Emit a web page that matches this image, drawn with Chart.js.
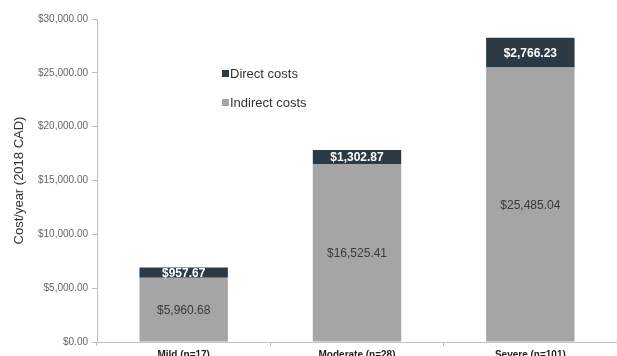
<!DOCTYPE html>
<html>
<head>
<meta charset="utf-8">
<script src="https://cdn.jsdelivr.net/npm/chart.js@4"></script>
<style>
  html, body { margin: 0; padding: 0; background: #fff; }
  #wrap { width: 617px; height: 356px; position: relative; }
</style>
</head>
<body>
<div id="wrap"><canvas id="myCanvas"></canvas></div>
<script>
const categories = ["Mild (n=17)", "Moderate (n=28)", "Severe (n=101)"];
const indirectCosts = [5960.68, 16525.41, 25485.04];
const directCosts = [957.67, 1302.87, 2766.23];
const yTicks = [0, 5000, 10000, 15000, 20000, 25000, 30000];

const money = v => "$" + v.toLocaleString("en-US", { minimumFractionDigits: 2, maximumFractionDigits: 2 });

// value labels inside each segment
const valueLabels = {
    id: "valueLabels",
    afterDatasetsDraw(chart) {
        const ctx = chart.ctx;
        ctx.save();
        ctx.textAlign = "center";
        ctx.textBaseline = "middle";
        chart.data.datasets.forEach((ds, i) => {
            const meta = chart.getDatasetMeta(i);
            meta.data.forEach((bar, j) => {
                const mid = (bar.y + bar.base) / 2;
                if (ds.label === "Direct costs") {
                    ctx.font = "bold 12px 'Liberation Sans', Arial, sans-serif";
                    ctx.fillStyle = "#ffffff";
                } else {
                    ctx.font = "12px 'Liberation Sans', Arial, sans-serif";
                    ctx.fillStyle = "#3a3a3a";
                }
                ctx.fillText(money(ds.data[j]), bar.x, mid + 1);
            });
        });
        ctx.restore();
    },
};

// legend drawn inside the plot, direct first
const innerLegend = {
    id: "innerLegend",
    afterDraw(chart) {
        const ctx = chart.ctx;
        const items = [chart.data.datasets[1], chart.data.datasets[0]];
        ctx.save();
        ctx.font = "13px 'Liberation Sans', Arial, sans-serif";
        ctx.textBaseline = "middle";
        items.forEach((ds, k) => {
            const y = 74 + k * 29;
            ctx.fillStyle = ds.backgroundColor;
            ctx.fillRect(222, y - 4, 7, 7);
            ctx.fillStyle = "#333333";
            ctx.fillText(ds.label, 230, y);
        });
        ctx.restore();
    },
};

new Chart(document.getElementById("myCanvas"), {
    type: "bar",
    data: {
        labels: categories,
        datasets: [
            {
                label: "Indirect costs",
                data: indirectCosts,
                backgroundColor: "#a5a5a5",
                categoryPercentage: 1,
                barPercentage: 0.51,
            },
            {
                label: "Direct costs",
                data: directCosts,
                backgroundColor: "#2b3a44",
                categoryPercentage: 1,
                barPercentage: 0.51,
            },
        ],
    },
    options: {
        responsive: true,
        maintainAspectRatio: false,
        animation: false,
        layout: { padding: { top: 19, right: 0, bottom: 0, left: 0 } },
        plugins: {
            legend: { display: false },
            tooltip: { enabled: false },
        },
        scales: {
            x: {
                stacked: true,
                afterFit: s => { s.height = 14; },
                grid: {
                    offset: true,
                    drawOnChartArea: false,
                    color: "#bfbfbf",
                    tickLength: 4,
                },
                border: { color: "#bfbfbf" },
                ticks: {
                    padding: 3,
                    color: "#222222",
                    font: { family: "'Liberation Sans', Arial, sans-serif", size: 10, weight: "bold" },
                },
            },
            y: {
                stacked: true,
                min: 0,
                max: 30000,
                afterFit: s => { s.width = 97; },
                afterBuildTicks: s => { s.ticks = yTicks.map(v => ({ value: v })); },
                grid: {
                    drawOnChartArea: false,
                    color: "#bfbfbf",
                    tickLength: 5,
                },
                border: { color: "#bfbfbf" },
                ticks: {
                    padding: 4,
                    color: "#666666",
                    font: { family: "'Liberation Sans', Arial, sans-serif", size: 10 },
                    callback: v => money(v),
                },
                title: {
                    display: true,
                    text: "Cost/year (2018 CAD)",
                    color: "#333333",
                    padding: { top: 12, bottom: 0 },
                    font: { family: "'Liberation Sans', Arial, sans-serif", size: 13 },
                },
            },
        },
    },
    plugins: [valueLabels, innerLegend],
});
</script>
</body>
</html>
